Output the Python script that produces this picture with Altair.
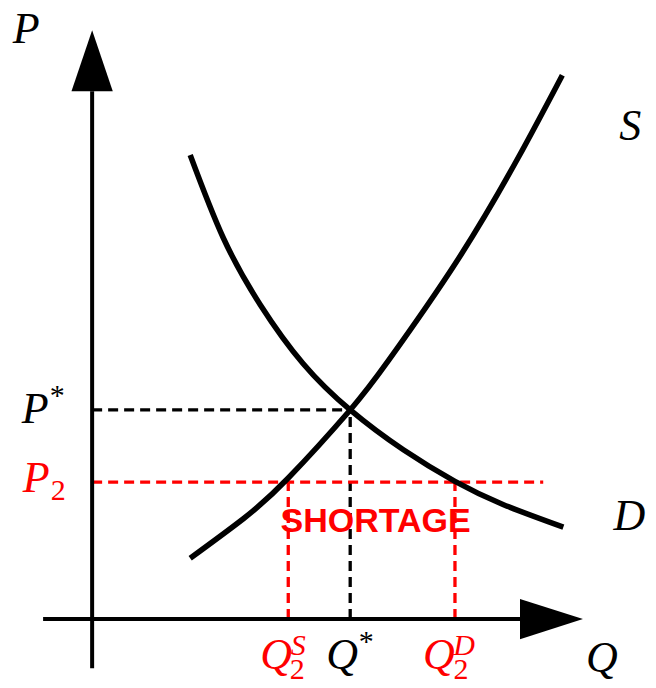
import altair as alt
import pandas as pd

# ---------------- data (Q, P in abstract units) ----------------
supply_q = [1.90, 2.93, 3.80, 5.00, 5.75, 7.05, 8.23, 9.11]
supply_p = [1.45, 2.39, 3.36, 4.98, 6.17, 8.49, 10.93, 12.95]
demand_q = [1.90, 2.54, 3.26, 4.09, 5.00, 6.03, 7.03, 7.96, 9.13]
demand_p = [11.05, 9.08, 7.48, 6.08, 4.98, 4.03, 3.28, 2.73, 2.19]

q_star = 5.00
p_star = 4.98
p_2 = 3.26
q2_s = 3.80
q2_d = 7.03
p2_line_end = 8.74

# axis extents
q_axis_start, q_axis_end, q_arrow_tip = -0.95, 8.29, 9.51
p_axis_start, p_axis_end, p_arrow_tip = -1.17, 12.57, 14.02
arrow_half_q = 0.40   # half width of the P-axis arrowhead (Q units)
arrow_half_p = 0.48   # half height of the Q-axis arrowhead (P units)

RED = "#ff0000"
SERIF = "Liberation Serif"
SANS = "Liberation Sans"

xs = alt.Scale(domain=[-1.63, 10.77], nice=False, zero=False)
ys = alt.Scale(domain=[-1.45, 14.55], nice=False, zero=False)


def X(f):
    return alt.X(f, type="quantitative", scale=xs, axis=None)


def Y(f):
    return alt.Y(f, type="quantitative", scale=ys, axis=None)


def curve(qs, ps):
    df = pd.DataFrame({"q": qs, "p": ps, "o": range(len(qs))})
    return alt.Chart(df).mark_line(
        color="black", strokeWidth=5.5, interpolate="natural"
    ).encode(x=X("q"), y=Y("p"), order="o:Q")


def hrule(q0, q1, p, color, dash=True, width=3.3):
    df = pd.DataFrame({"q0": [q0], "q1": [q1], "p": [p]})
    kw = dict(color=color, strokeWidth=width)
    if dash:
        kw["strokeDash"] = [10, 6]
    return alt.Chart(df).mark_rule(**kw).encode(
        x=X("q0"), x2=alt.X2("q1"), y=Y("p"))


def vrule(q, p0, p1, color, dash=True, width=3.3):
    df = pd.DataFrame({"q": [q], "p0": [p0], "p1": [p1]})
    kw = dict(color=color, strokeWidth=width)
    if dash:
        kw["strokeDash"] = [10, 6]
    return alt.Chart(df).mark_rule(**kw).encode(
        x=X("q"), y=Y("p0"), y2=alt.Y2("p1"))


def label(q, p, text, size, dx, dy, color="black", italic=True,
          font=SERIF, weight="normal"):
    df = pd.DataFrame({"q": [q], "p": [p], "t": [text]})
    return alt.Chart(df).mark_text(
        font=font, fontSize=size, fontStyle="italic" if italic else "normal",
        fontWeight=weight, color=color, align="center",
        baseline="alphabetic", dx=dx, dy=dy
    ).encode(x=X("q"), y=Y("p"), text="t:N")


# arrowheads
p_arrow = pd.DataFrame({"p": [p_axis_end, p_arrow_tip],
                        "l": [-arrow_half_q, 0.0], "r": [arrow_half_q, 0.0]})
q_arrow = pd.DataFrame({"q": [q_axis_end, q_arrow_tip],
                        "lo": [-arrow_half_p, 0.0], "hi": [arrow_half_p, 0.0]})

p_head = alt.Chart(p_arrow).mark_area(color="black", orient="horizontal").encode(
    y=Y("p"), x=X("l"), x2=alt.X2("r"))
q_head = alt.Chart(q_arrow).mark_area(color="black", orient="vertical").encode(
    x=X("q"), y=Y("lo"), y2=alt.Y2("hi"))

layers = [
    hrule(0, q_star, p_star, "black"),
    vrule(q_star, 0, p_star, "black"),
    hrule(0, p2_line_end, p_2, RED),
    vrule(q2_s, 0, p_2, RED),
    vrule(q2_d, 0, p_2, RED),
    curve(supply_q, supply_p),
    curve(demand_q, demand_p),
    vrule(0, p_axis_start, p_axis_end, "black", dash=False, width=4),
    hrule(q_axis_start, q_axis_end, 0, "black", dash=False, width=4),
    p_head,
    q_head,
    # axis names
    label(0, p_arrow_tip, "P", 44, -66, 13),
    label(q_arrow_tip, 0, "Q", 44, 19, 53),
    label(supply_q[-1], supply_p[-1], "S", 44, 68, 65),
    label(demand_q[-1], demand_p[-1], "D", 44, 66, 3),
    # P* and P2
    label(0, p_star, "P", 44, -57, 13),
    label(0, p_star, "*", 30, -35, -5, italic=False),
    label(0, p_2, "P", 44, -56, 10, color=RED),
    label(0, p_2, "2", 30, -34, 18, color=RED, italic=False),
    # Q labels
    label(q2_s, 0, "Q", 44, -12, 50, color=RED),
    label(q2_s, 0, "2", 30, 9, 60, color=RED, italic=False),
    label(q2_s, 0, "S", 30, 10, 36, color=RED),
    label(q_star, 0, "Q", 44, -8, 50),
    label(q_star, 0, "*", 30, 16, 32, italic=False),
    label(q2_d, 0, "Q", 44, -16, 50, color=RED),
    label(q2_d, 0, "2", 30, 6, 60, color=RED, italic=False),
    label(q2_d, 0, "D", 30, 9, 36, color=RED),
    # shortage
    label((q2_s + q2_d) / 2, p_2, "SHORTAGE", 34, 4, 50, color=RED,
          italic=False, font=SANS, weight="bold"),
]

chart = alt.layer(*layers).properties(
    width=640, height=672, padding=0,
    autosize=alt.AutoSizeParams(type="none"),
).configure_view(stroke=None)

chart.save("out.html", embed_options={"renderer": "svg", "actions": False})
